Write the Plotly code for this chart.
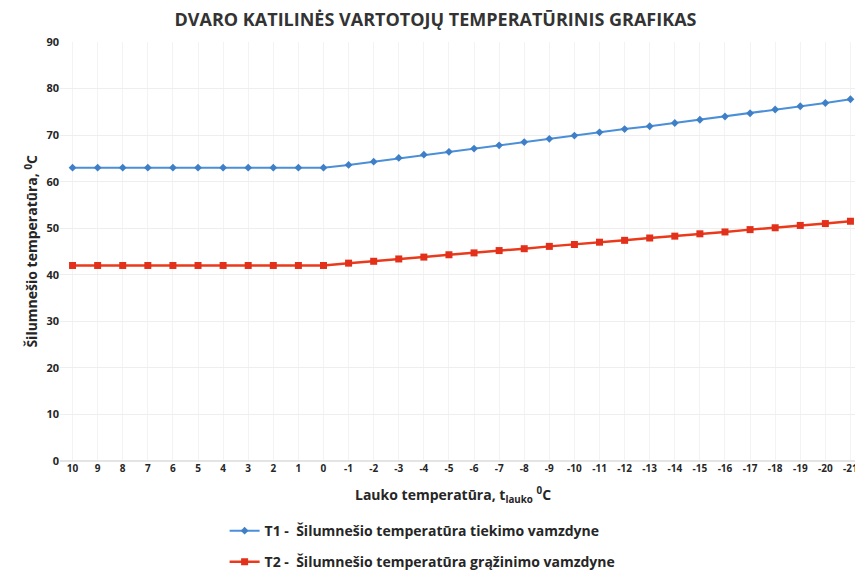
import plotly.graph_objects as go

outdoor_temps = ["10", "9", "8", "7", "6", "5", "4", "3", "2", "1", "0",
                 "-1", "-2", "-3", "-4", "-5", "-6", "-7", "-8", "-9", "-10",
                 "-11", "-12", "-13", "-14", "-15", "-16", "-17", "-18", "-19", "-20", "-21"]
t1_supply = [63, 63, 63, 63, 63, 63, 63, 63, 63, 63, 63,
             63.6, 64.3, 65.1, 65.8, 66.4, 67.1, 67.8, 68.5, 69.2, 69.9,
             70.6, 71.3, 71.9, 72.6, 73.3, 74.0, 74.7, 75.5, 76.2, 76.9, 77.7]
t2_return = [42, 42, 42, 42, 42, 42, 42, 42, 42, 42, 42,
             42.5, 42.9, 43.4, 43.8, 44.3, 44.7, 45.2, 45.6, 46.1, 46.5,
             47.0, 47.4, 47.9, 48.3, 48.8, 49.2, 49.7, 50.1, 50.6, 51.0, 51.5]
y_ticks = [0, 10, 20, 30, 40, 50, 60, 70, 80, 90]

FONT = "Open Sans"
TXT = "#262626"

fig = go.Figure()
fig.add_trace(go.Scatter(
    x=outdoor_temps, y=t1_supply, mode="lines+markers",
    name="<b>T1 -  Šilumnešio temperatūra tiekimo vamzdyne</b>",
    line=dict(color="#4a8fd8", width=2),
    marker=dict(symbol="diamond", size=6, color="#3f7fc8"),
    legendgroup="a",
))
fig.add_trace(go.Scatter(
    x=outdoor_temps, y=t2_return, mode="lines+markers",
    name="<b>T2 -  Šilumnešio temperatūra grąžinimo vamzdyne</b>",
    line=dict(color="#ea3a1c", width=2.5),
    marker=dict(symbol="square", size=7, color="#e2301a"),
    legendgroup="b",
))

fig.update_layout(
    width=855, height=569,
    paper_bgcolor="white", plot_bgcolor="white",
    margin=dict(l=52, r=0, t=34, b=116, autoexpand=False),
    title=dict(text="<b>DVARO KATILINĖS VARTOTOJŲ TEMPERATŪRINIS GRAFIKAS</b>",
               x=0.5, xref="container", xanchor="center", y=1 - 12 / 569, yanchor="middle",
               font=dict(family=FONT, size=18, color="#333333")),
    font=dict(family=FONT, color=TXT),
    showlegend=True,
    legend=dict(x=0.205, xanchor="left", y=-0.129, yanchor="top",
                orientation="v", traceorder="grouped", tracegroupgap=10,
                font=dict(family=FONT, size=14, color=TXT),
                bgcolor="rgba(0,0,0,0)"),
    xaxis=dict(type="category", categoryorder="array", categoryarray=outdoor_temps,
               tickvals=outdoor_temps, ticktext=[f"<b>{t}</b>" for t in outdoor_temps],
               range=[-0.5, len(outdoor_temps) - 0.5], automargin=False,
               showgrid=True, gridcolor="#f3f3f3", ticks="", showline=False,
               tickfont=dict(family=FONT, size=10, color=TXT)),
    yaxis=dict(range=[0, 90], tickvals=y_ticks, ticktext=[f"<b>{v}</b>" for v in y_ticks],
               showgrid=True, gridcolor="#eeeeee",
               zeroline=True, zerolinecolor="#e4e4e4", ticks="", showline=False,
               automargin=False,
               tickfont=dict(family=FONT, size=11, color=TXT)),
    annotations=[
        dict(text="<b>Lauko temperatūra, t<sub>lauko</sub> <sup>0</sup>C</b>",
             xref="paper", yref="paper", x=0.49, y=-0.081, xanchor="center", yanchor="middle",
             showarrow=False, font=dict(family=FONT, size=14, color=TXT)),
        dict(text="<b>Šilumnešio temperatūra, <sup>0</sup>C</b>", textangle=-90,
             xref="paper", yref="paper", x=-0.036, y=0.5, xanchor="center", yanchor="middle",
             showarrow=False, font=dict(family=FONT, size=14, color=TXT)),
    ],
)

fig.write_html("out.html")
